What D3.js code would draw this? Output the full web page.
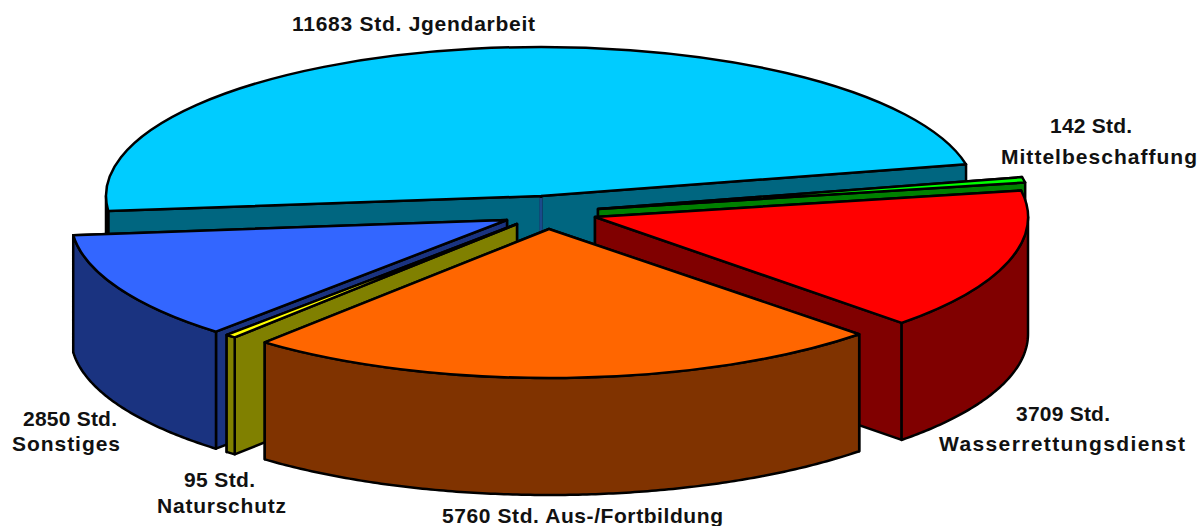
<!DOCTYPE html>
<html>
<head>
<meta charset="utf-8">
<script src="https://cdn.jsdelivr.net/npm/d3@7"></script>
<style>
  html, body { margin: 0; padding: 0; background: #fff; overflow: hidden; }
  text { font-family: "Liberation Sans", Arial, sans-serif; font-weight: bold; font-size: 21px; fill: #111; }
</style>
</head>
<body>
<svg id="chart" width="1199" height="526"></svg>
<script>
// data, in pie order (clockwise from the back left)
const categories = ["Jgendarbeit", "Mittelbeschaffung", "Wasserrettungsdienst", "Aus-/Fortbildung", "Naturschutz", "Sonstiges"]
const hours = [11683, 142, 3709, 5760, 95, 2850]

const topColors = ["#00ccff", "#00ff00", "#ff0000", "#ff6600", "#ffff00", "#3366ff"]
const sideColors = ["#006680", "#008000", "#800000", "#803300", "#808000", "#1a3380"]

// layout: apex and radii of each exploded slice, and where its label goes
const apexX = [541, 598, 595, 549, 517, 507]
const apexY = [196, 209, 217, 229, 224, 220]
const radiusX = [435, 434, 433, 438, 435, 436]
const radiusY = [149, 150, 150, 149, 149, 150]
const labelSpots = [
    [{ x: 292, y: 31, w: 243 }],
    [{ x: 1050, y: 133, w: 82 }, { x: 1001, y: 164, w: 196 }],
    [{ x: 1016, y: 421, w: 94 }, { x: 939, y: 451, w: 246 }],
    [{ x: 442, y: 523, w: 281 }],
    [{ x: 184, y: 487, w: 71 }, { x: 157, y: 513, w: 129 }],
    [{ x: 23, y: 426, w: 94 }, { x: 12, y: 451, w: 108 }]
]

const depth = 117
const startAngle = 264.2 * Math.PI / 180

const svg = d3.select("#chart")

const pie = d3.pie().sort(null)
    .startAngle(startAngle)
    .endAngle(startAngle + 2 * Math.PI)
const arcs = pie(hours)

// a point on the rim of slice i, angle clockwise from the top
const rimX = (i, a) => apexX[i] + radiusX[i] * Math.sin(a)
const rimY = (i, a) => apexY[i] - radiusY[i] * Math.cos(a)

const edge = d3.line()

function outline(sel) {
    return sel.attr("stroke", "#000")
        .attr("stroke-width", 2.5)
        .attr("stroke-linejoin", "round")
}

// back to front
const drawOrder = [0, 1, 2, 5, 4, 3]

drawOrder.forEach(i => {
    const d = arcs[i]
    const g = svg.append("g").attr("class", "slice")

    // the two cut faces, the one further back first
    const ends = [d.startAngle, d.endAngle].sort((a, b) => rimY(i, a) - rimY(i, b))
    ends.forEach(a => {
        g.append("path")
            .attr("d", edge([
                [apexX[i], apexY[i]],
                [rimX(i, a), rimY(i, a)],
                [rimX(i, a), rimY(i, a) + depth],
                [apexX[i], apexY[i] + depth]
            ]) + "Z")
            .attr("fill", sideColors[i])
            .call(outline)
    })

    // outer wall, only the front half of the rim can be seen
    const wallRanges = [[Math.PI / 2, 3 * Math.PI / 2], [5 * Math.PI / 2, 7 * Math.PI / 2]]
    wallRanges.forEach(([lo, hi]) => {
        const a0 = Math.max(d.startAngle, lo)
        const a1 = Math.min(d.endAngle, hi)
        if (a1 <= a0) return
        const steps = d3.range(a0, a1, 0.01).concat(a1)
        const wall = d3.area()
            .x(a => rimX(i, a))
            .y0(a => rimY(i, a))
            .y1(a => rimY(i, a) + depth)
        g.append("path")
            .attr("d", wall(steps))
            .attr("fill", sideColors[i])
            .call(outline)
    })

    // seam where the big slice's two faces meet
    if (i === 0) {
        g.append("line")
            .attr("x1", apexX[i]).attr("x2", apexX[i])
            .attr("y1", apexY[i] + 2).attr("y2", apexY[i] + depth)
            .attr("stroke", "#1a4a8c")
            .attr("stroke-width", 3)
    }

    // top of the slice
    const topArc = d3.arc().innerRadius(0).outerRadius(radiusX[i])
    g.append("path")
        .attr("transform", `translate(${apexX[i]},${apexY[i]}) scale(1,${radiusY[i] / radiusX[i]})`)
        .attr("d", topArc(d))
        .attr("fill", topColors[i])
        .attr("vector-effect", "non-scaling-stroke")
        .call(outline)
})

// labels
categories.forEach((name, i) => {
    const value = `${hours[i]} Std.`
    const spots = labelSpots[i]
    const lines = spots.length === 1 ? [`${value} ${name}`] : [value, name]
    lines.forEach((line, k) => {
        svg.append("text")
            .attr("x", spots[k].x)
            .attr("y", spots[k].y)
            .attr("textLength", spots[k].w)
            .attr("lengthAdjust", "spacing")
            .text(line)
    })
})
</script>
</body>
</html>
